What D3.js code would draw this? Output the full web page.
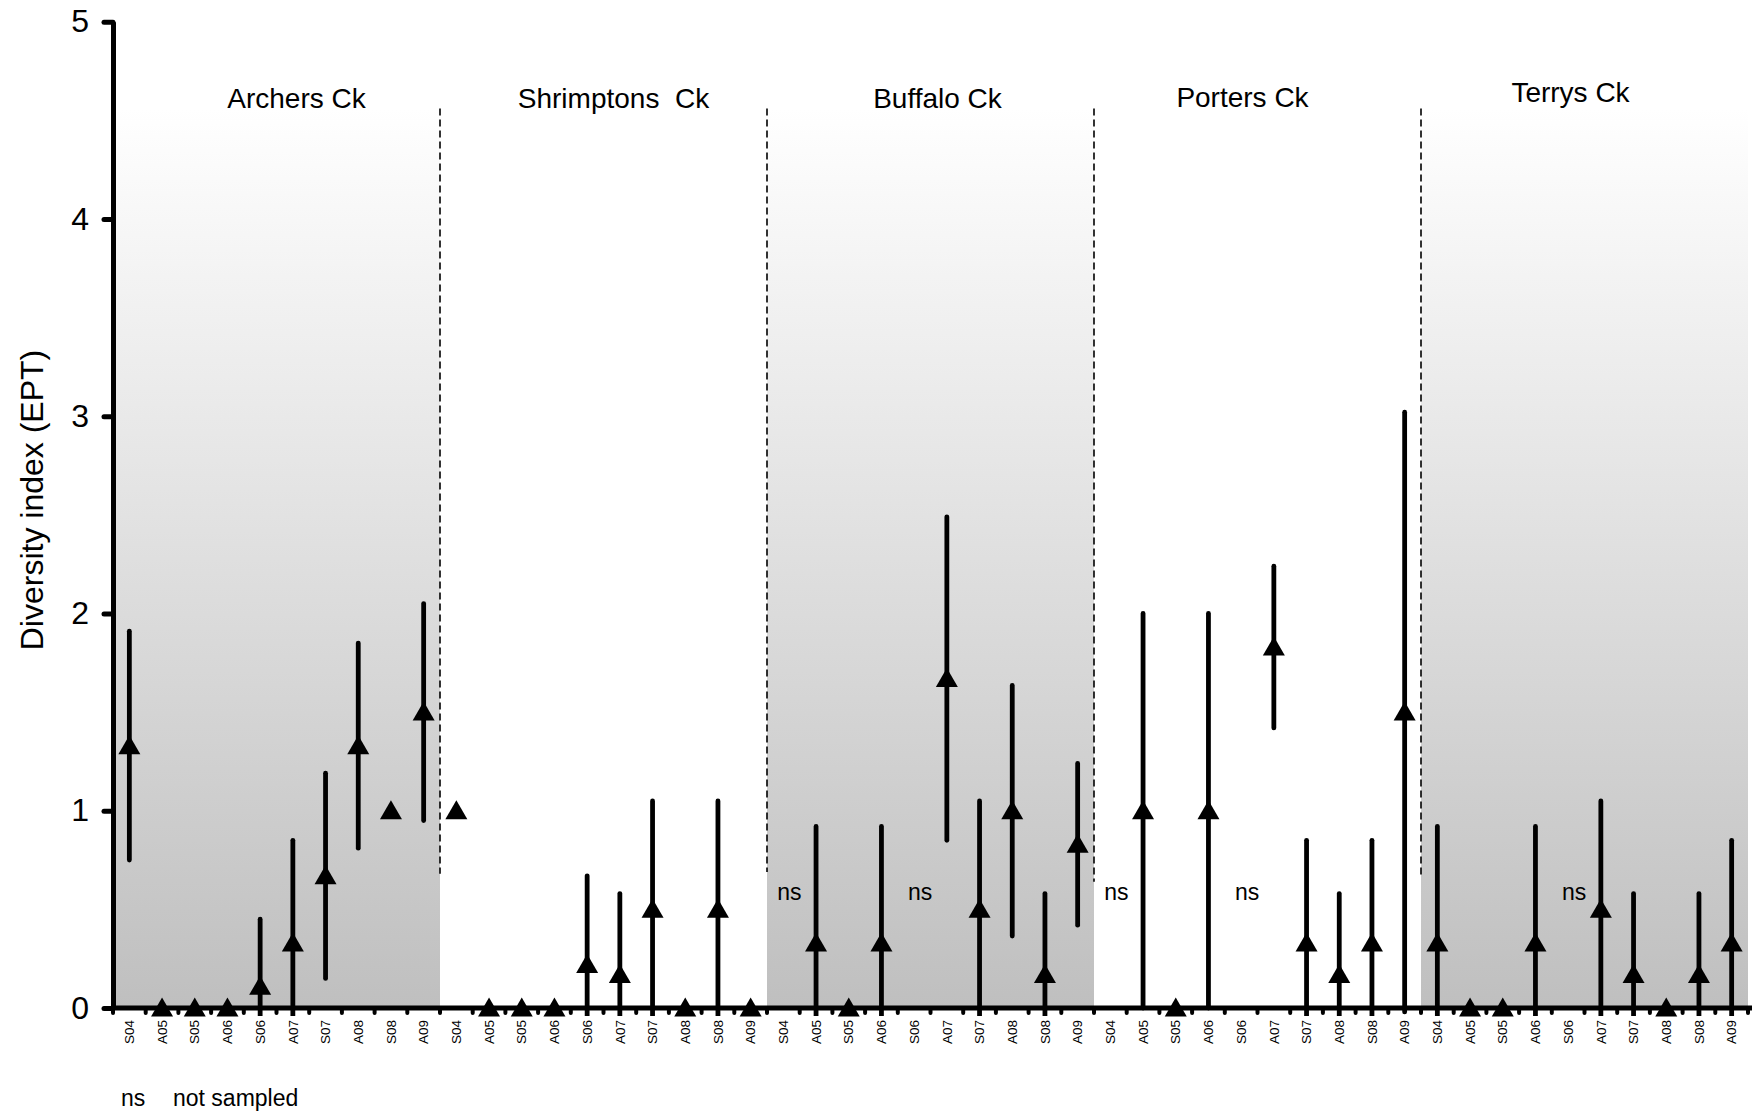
<!DOCTYPE html>
<html>
<head>
<meta charset="utf-8">
<script src="https://cdn.jsdelivr.net/npm/d3@7"></script>
<style>
    body { margin: 0; background: #fff; }
    text { font-family: "Liberation Sans", Arial, Helvetica, sans-serif; fill: #000; }
</style>
</head>
<body>
<script>
window.onload = main;

// creeks and sampling occasions (S = spring, A = autumn)
const creeks = ["Archers Ck", "Shrimptons  Ck", "Buffalo Ck", "Porters Ck", "Terrys Ck"];
const samples = ["S04", "A05", "S05", "A06", "S06", "A07", "S07", "A08", "S08", "A09"];
const shadedCreeks = ["Archers Ck", "Buffalo Ck", "Terrys Ck"];

// mean EPT index per sample and its error (null = not sampled)
const archersMean    = [1.33, 0, 0, 0, 0.11, 0.33, 0.67, 1.33, 1.0, 1.5];
const archersErr     = [0.58, 0, 0, 0, 0.34, 0.52, 0.52, 0.52, 0, 0.55];
const shrimptonsMean = [1.0, 0, 0, 0, 0.22, 0.17, 0.5, 0, 0.5, 0];
const shrimptonsErr  = [0, 0, 0, 0, 0.45, 0.41, 0.55, 0, 0.55, 0];
const buffaloMean    = [null, 0.33, 0, 0.33, null, 1.67, 0.5, 1.0, 0.17, 0.83];
const buffaloErr     = [null, 0.59, 0, 0.59, null, 0.82, 0.55, 0.635, 0.41, 0.41];
const portersMean    = [null, 1.0, 0, 1.0, null, 1.83, 0.33, 0.17, 0.33, 1.5];
const portersErr     = [null, 1.0, 0, 1.0, null, 0.41, 0.52, 0.41, 0.52, 1.52];
const terrysMean     = [0.33, 0, 0, 0.33, null, 0.5, 0.17, 0, 0.17, 0.33];
const terrysErr      = [0.59, 0, 0, 0.59, null, 0.55, 0.41, 0, 0.41, 0.52];

const yTicks = [0, 1, 2, 3, 4, 5];

const svgWidth = 1753;
const svgHeight = 1116;

function main() {
    const means = [archersMean, shrimptonsMean, buffaloMean, portersMean, terrysMean];
    const errs = [archersErr, shrimptonsErr, buffaloErr, portersErr, terrysErr];

    const rows = [];
    creeks.forEach((c, i) => {
        samples.forEach((s, j) => {
            rows.push({creek: c, sample: s, key: c + "|" + s,
                       mean: means[i][j], err: errs[i][j]});
        });
    });
    render_data(rows);
}

function render_data(rows) {
    const svg = d3.select("body").append("svg")
        .attr("width", svgWidth)
        .attr("height", svgHeight);

    const x = d3.scaleBand()
        .domain(rows.map(d => d.key))
        .range([113, 1748]);

    const y = d3.scaleLinear()
        .domain([0, 5])
        .range([1008, 21.7]);

    // gradient for the shaded creeks
    const grad = svg.append("defs").append("linearGradient")
        .attr("id", "shade")
        .attr("x1", 0).attr("y1", 0).attr("x2", 0).attr("y2", 1);
    grad.append("stop").attr("offset", 0).attr("stop-color", "#ffffff");
    grad.append("stop").attr("offset", 1).attr("stop-color", "#bfbfbf");

    svg.select("defs").append("clipPath")
        .attr("id", "plotclip")
        .append("rect")
        .attr("x", 0).attr("y", 0)
        .attr("width", svgWidth).attr("height", y(0) + 8);

    const groupStart = c => x(c + "|" + samples[0]);
    const groupEnd = c => x(c + "|" + samples[samples.length - 1]) + x.bandwidth();

    svg.append("g").selectAll("rect")
        .data(shadedCreeks)
        .join("rect")
        .attr("x", d => groupStart(d))
        .attr("width", d => groupEnd(d) - groupStart(d))
        .attr("y", y(4.56))
        .attr("height", y(0) - y(4.56))
        .attr("fill", "url(#shade)");

    // dashed separators between creeks
    const dashBottom = [0.68, 0.69, 0.64, 0.67];
    svg.append("g").selectAll("line")
        .data(creeks.slice(1))
        .join("line")
        .attr("x1", d => groupStart(d))
        .attr("x2", d => groupStart(d))
        .attr("y1", y(4.56))
        .attr("y2", (d, i) => y(dashBottom[i]))
        .attr("stroke", "#000")
        .attr("stroke-width", 1.6)
        .attr("stroke-dasharray", "7,4");

    // creek names
    const labelShift = [20, 10, 7, -15, -14];
    const labelBase = [108, 108, 108, 107, 102];
    svg.append("g").selectAll("text")
        .data(creeks)
        .join("text")
        .attr("x", (d, i) => (groupStart(d) + groupEnd(d)) / 2 + labelShift[i])
        .attr("y", (d, i) => labelBase[i])
        .attr("text-anchor", "middle")
        .style("white-space", "pre")
        .style("font-size", "28px")
        .text(d => d);

    const cx = d => x(d.key) + x.bandwidth() / 2;
    const sampled = rows.filter(d => d.mean !== null);

    // error bars
    svg.append("g")
        .attr("clip-path", "url(#plotclip)")
        .selectAll("line")
        .data(sampled.filter(d => d.err > 0))
        .join("line")
        .attr("x1", cx).attr("x2", cx)
        .attr("y1", d => y(d.mean - d.err))
        .attr("y2", d => y(d.mean + d.err))
        .attr("stroke", "#000")
        .attr("stroke-width", 4.8)
        .attr("stroke-linecap", "round");

    // y axis
    const yAxis = svg.append("g")
        .attr("transform", `translate(${x.range()[0]},0)`)
        .call(d3.axisLeft(y).tickValues(yTicks).tickFormat(d3.format("d"))
            .tickSize(9).tickSizeOuter(0).tickPadding(15));
    yAxis.select(".domain").attr("stroke-width", 5);
    yAxis.selectAll(".tick line").attr("stroke-width", 5).attr("stroke-linecap", "round");
    yAxis.selectAll(".tick text")
        .style("font-size", "32px")
        .style("font-family", "Liberation Sans, Arial, sans-serif");

    // x axis
    const xAxis = svg.append("g")
        .attr("transform", `translate(0,${y(0)})`)
        .call(d3.axisBottom(x).tickSize(0).tickSizeOuter(0).tickFormat(k => k.split("|")[1]));
    xAxis.select(".domain").remove();
    xAxis.append("line")
        .attr("x1", x.range()[0]).attr("x2", 1752)
        .attr("stroke", "#000").attr("stroke-width", 5);
    xAxis.selectAll(".tick text")
        .attr("transform", "rotate(-90)")
        .attr("text-anchor", "end")
        .attr("x", -12)
        .attr("y", 0)
        .attr("dy", "0.35em")
        .style("font-size", "13.5px")
        .style("font-family", "Liberation Sans, Arial, sans-serif");

    // small ticks on the band boundaries
    xAxis.append("g").selectAll("line")
        .data(d3.range(x.domain().length + 1))
        .join("line")
        .attr("x1", i => x.range()[0] + i * x.step())
        .attr("x2", i => x.range()[0] + i * x.step())
        .attr("y1", 0).attr("y2", 5)
        .attr("stroke", "#000")
        .attr("stroke-width", 4)
        .attr("stroke-linecap", "round");

    // triangle markers
    const tri = "M0,-10.5L11,8.5L-11,8.5Z";
    svg.append("g").selectAll("path")
        .data(sampled)
        .join("path")
        .attr("transform", d => `translate(${cx(d)},${y(d.mean)})`)
        .attr("d", tri)
        .attr("fill", "#000");

    // not sampled labels
    svg.append("g").selectAll("text")
        .data(rows.filter(d => d.mean === null))
        .join("text")
        .attr("x", d => cx(d) + 6)
        .attr("y", y(0.55))
        .attr("text-anchor", "middle")
        .style("font-size", "23px")
        .text("ns");

    // y axis title
    svg.append("text")
        .attr("transform", "translate(43,500) rotate(-90)")
        .attr("text-anchor", "middle")
        .style("font-size", "32px")
        .text("Diversity index (EPT)");

    // legend
    svg.append("text").attr("x", 121).attr("y", 1106)
        .style("font-size", "23px").text("ns");
    svg.append("text").attr("x", 173).attr("y", 1106)
        .style("font-size", "23px").text("not sampled");
}
</script>
</body>
</html>
